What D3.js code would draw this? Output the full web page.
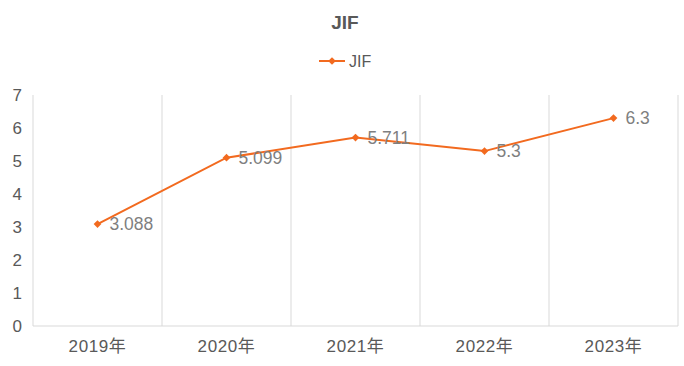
<!DOCTYPE html>
<html><head><meta charset="utf-8">
<script src="https://cdn.jsdelivr.net/npm/d3@7"></script>
<style>
body{margin:0;background:#fff;}
text{font-family:"Liberation Sans","Noto Sans CJK SC",sans-serif;}
</style></head>
<body><svg id="c" width="684" height="366"></svg>
<script>
const categories = ["2019年","2020年","2021年","2022年","2023年"];
const jifValues = [3.088, 5.099, 5.711, 5.3, 6.3];
const valueLabels = ["3.088","5.099","5.711","5.3","6.3"];
const yTicks = [0,1,2,3,4,5,6,7];
const seriesName = "JIF";
const titleText = "JIF";

const svg = d3.select("#c");
const color = "#F26A1F";
const margin = {left:33, right:6};
const W = 684, H = 366;
const x = d3.scaleBand().domain(categories).range([margin.left, W-margin.right]).padding(0);
const y = d3.scaleLinear().domain([0,7]).range([326, 95]);

// vertical grid lines at band boundaries
const bounds = categories.map(c=>x(c)).concat([x(categories[categories.length-1])+x.bandwidth()]);
svg.append("g").selectAll("line").data(bounds).join("line")
  .attr("x1",d=>d).attr("x2",d=>d).attr("y1",y(7)).attr("y2",y(0))
  .attr("stroke","#d9d9d9").attr("stroke-width",1);
svg.append("line").attr("x1",margin.left).attr("x2",W-margin.right)
  .attr("y1",y(0)).attr("y2",y(0)).attr("stroke","#d9d9d9");

// y axis labels
const yAxis = d3.axisLeft(y).tickValues(yTicks).tickFormat(d3.format("d")).tickSize(0).tickPadding(0);
const gy = svg.append("g").attr("transform",`translate(22,0)`).call(yAxis);
gy.select(".domain").remove();
gy.selectAll("text").attr("fill","#595959").style("font-size","17px").attr("text-anchor","end");

// x axis labels
const xAxis = d3.axisBottom(x).tickSize(0).tickPadding(0);
const gx = svg.append("g").attr("transform",`translate(0,${y(0)+14})`).call(xAxis);
gx.select(".domain").remove();
gx.selectAll("text").attr("fill","#595959").style("font-size","17px").style("letter-spacing","0.6px");

// line
const cx = c => x(c)+x.bandwidth()/2;
const line = d3.line().x((d,i)=>cx(categories[i])).y(d=>y(d));
svg.append("path").datum(jifValues).attr("d",line)
  .attr("fill","none").attr("stroke",color).attr("stroke-width",2);
const marker = d3.symbol().type(d3.symbolSquare).size(30);
svg.append("g").selectAll("path").data(jifValues).join("path")
  .attr("d",marker).attr("fill",color)
  .attr("transform",(d,i)=>`translate(${cx(categories[i])},${y(d)}) rotate(45)`);
// data labels
svg.append("g").selectAll("text").data(jifValues).join("text")
  .attr("x",(d,i)=>cx(categories[i])+12).attr("y",d=>y(d))
  .attr("dy","0.35em").attr("fill","#7f7f7f").style("font-size","17.5px")
  .text((d,i)=>valueLabels[i]);

// title
svg.append("text").attr("x",W/2+3).attr("y",22).attr("dy","0.35em")
  .attr("text-anchor","middle").attr("fill","#595959")
  .style("font-size","19px").style("font-weight","bold").text(titleText);

// legend
const lg = svg.append("g");
lg.append("line").attr("x1",319).attr("x2",345).attr("y1",61).attr("y2",61)
  .attr("stroke",color).attr("stroke-width",2);
lg.append("path").attr("d",marker).attr("fill",color).attr("transform","translate(332,61) rotate(45)");
lg.append("text").attr("x",349).attr("y",61).attr("dy","0.35em")
  .attr("fill","#595959").style("font-size","16px").text(seriesName);
</script></body></html>
